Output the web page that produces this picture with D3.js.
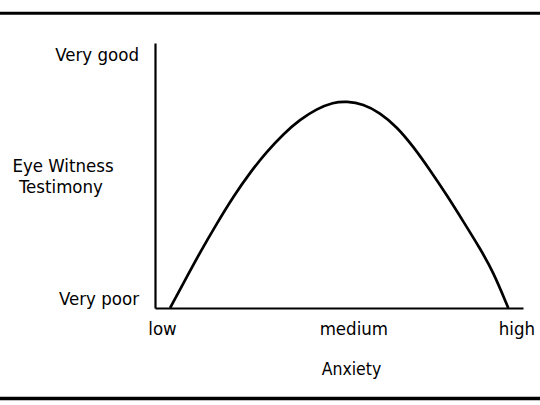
<!DOCTYPE html>
<html>
<head>
<meta charset="utf-8">
<script src="https://cdn.jsdelivr.net/npm/d3@7"></script>
<style>
  html, body { margin: 0; padding: 0; background: #fff; }
  svg { display: block; }
  text { font-family: "DejaVu Sans Condensed", "DejaVu Sans", sans-serif; fill: #000; }
</style>
</head>
<body>
<svg id="chart" width="540" height="405"></svg>
<script>
// Anxiety level (0 = low, 100 = high) vs. testimony quality (0 = very poor, 100 = very good)
const anxiety = [4.1, 7.7, 12.2, 16.8, 21.3, 25.8, 30.4, 34.9, 39.4, 43.9, 48.4, 52.1, 56.6, 61.1, 65.7, 70.2, 74.7, 79.3, 83.8, 88.3, 91.9, 96.0];
const testimony = [0, 9.3, 20.9, 31.9, 42.1, 51.1, 59.0, 65.7, 71.1, 75.1, 77.6, 78.0, 77.0, 73.7, 68.4, 60.9, 52.1, 42.6, 32.6, 22.5, 13.7, 0];
const xTickLabels = ["low", "medium", "high"];
const xTickValues = [1.9, 53.9, 98.2];
const yTickLabels = ["Very poor", "Very good"];
const yTickValues = [3.6, 95.6];
const xTitle = "Anxiety";
const yTitle = ["Eye Witness", "Testimony"];

const svg = d3.select("#chart");
const W = 540, H = 405;
const FONT = '"DejaVu Sans Condensed", "DejaVu Sans", sans-serif';

const x = d3.scaleLinear().domain([0, 100]).range([155, 523]);
const y = d3.scaleLinear().domain([0, 100]).range([308, 43]);

// frame lines (top and bottom)
svg.append("line").attr("x1", 0).attr("x2", W).attr("y1", 13.3).attr("y2", 13.3)
  .attr("stroke", "#000").attr("stroke-width", 3);
svg.append("line").attr("x1", 0).attr("x2", W).attr("y1", 398.5).attr("y2", 398.5)
  .attr("stroke", "#000").attr("stroke-width", 3.5);

// axes
const xAxis = d3.axisBottom(x).tickValues(xTickValues)
  .tickFormat((d, i) => xTickLabels[i]).tickSize(0).tickPadding(14);
const gx = svg.append("g").attr("transform", `translate(0,${y(0)})`).call(xAxis);
gx.select(".domain").attr("stroke", "#000").attr("stroke-width", 2.2);
gx.selectAll("text").attr("font-size", 18.5).attr("fill", "#000").style("font-family", FONT);

const yAxis = d3.axisLeft(y).tickValues(yTickValues)
  .tickFormat((d, i) => yTickLabels[i]).tickSize(0).tickPadding(16);
const gy = svg.append("g").attr("transform", `translate(${x(0)},0)`).call(yAxis);
gy.select(".domain").attr("stroke", "#000").attr("stroke-width", 2.2);
gy.selectAll("text").attr("font-size", 18.5).attr("fill", "#000").style("font-family", FONT);

// curve
const pts = anxiety.map((a, i) => [a, testimony[i]]);
const line = d3.line().x(d => x(d[0])).y(d => y(d[1])).curve(d3.curveBasis);
svg.append("path").datum(pts).attr("d", line)
  .attr("fill", "none").attr("stroke", "#000").attr("stroke-width", 2.7);

// titles
svg.append("text").attr("x", 351.5).attr("y", 375).attr("text-anchor", "middle")
  .attr("font-size", 17.5).text(xTitle);
svg.append("text").attr("text-anchor", "middle").attr("font-size", 18.5)
  .selectAll("tspan").data(yTitle).join("tspan")
  .attr("x", (d, i) => i === 0 ? 63 : 61).attr("y", (d, i) => 172 + i * 21).text(d => d);
</script>
</body>
</html>
